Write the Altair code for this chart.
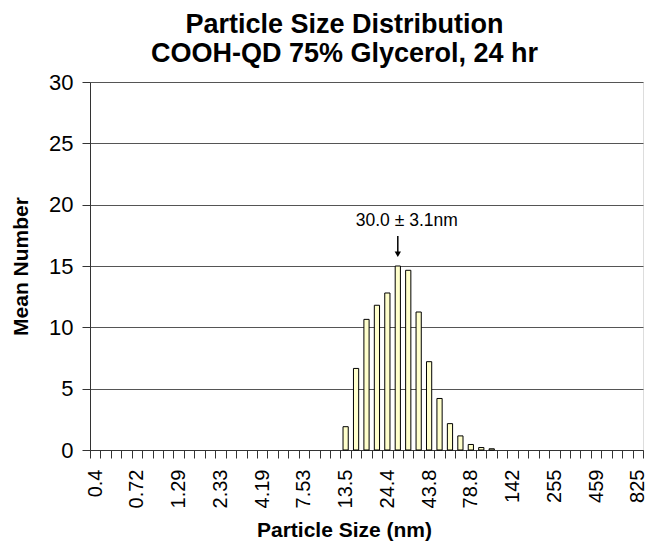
import json
import altair as alt
import pandas as pd

# Bin sizes (nm), Malvern-style size classes shown on the category axis
sizes = ["0.4", "0.463", "0.537", "0.621", "0.72", "0.833", "0.965", "1.12",
         "1.29", "1.5", "1.74", "2.01", "2.33", "2.7", "3.12", "3.62",
         "4.19", "4.85", "5.62", "6.5", "7.53", "8.72", "10.1", "11.7",
         "13.5", "15.7", "18.2", "21", "24.4", "28.2", "32.7", "37.8",
         "43.8", "50.7", "58.8", "68.1", "78.8", "91.3", "106", "122",
         "142", "164", "190", "220", "255", "295", "342", "396",
         "459", "531", "615", "712", "825"]

# Mean number per bin (only bins 13.5 .. 91.3 non-zero)
mean_number = [0] * 24 + [1.9, 6.65, 10.65, 11.8, 12.8, 15.0, 14.65, 11.25,
                          7.2, 4.2, 2.15, 1.15, 0.45, 0.2, 0.1] + [0] * 14

shown_labels = ["0.4", "0.72", "1.29", "2.33", "4.19", "7.53", "13.5", "24.4",
                "43.8", "78.8", "142", "255", "459", "825"]

y_ticks = [0, 5, 10, 15, 20, 25, 30]

annot_text = ["30.0 ± 3.1nm"]
annot_x = ["28.2"]
annot_y = [18.7]
arrow_top = [17.45]
arrow_bottom = [15.95]

FONT = "Liberation Sans"

df = pd.DataFrame({"size": sizes, "value": mean_number})
ann = pd.DataFrame({"size": annot_x, "y": annot_y, "label": annot_text,
                    "y1": arrow_top, "y2": arrow_bottom})

label_expr = "indexof(" + json.dumps(shown_labels) + ", datum.value) >= 0 ? datum.value : ''"

x_scale = alt.Scale(domain=sizes, paddingInner=0, paddingOuter=0)
y_scale = alt.Scale(domain=[0, 30])

bars = alt.Chart(df).transform_filter("datum.value > 0").mark_bar(
    width=alt.RelativeBandSize(0.5), fill="#FFFFCC", stroke="#000000", strokeWidth=1
).encode(
    x=alt.X("size:N", scale=x_scale, sort=sizes,
            axis=alt.Axis(title="Particle Size (nm)", labelExpr=label_expr,
                          labelAngle=270, labelFontSize=20, labelFont=FONT,
                          labelColor="#000000", labelPadding=11, labelOverlap=False,
                          tickBand="extent", tickSize=8, tickColor="#333333",
                          domainColor="#333333", grid=False,
                          titleFontSize=21, titleFont=FONT, titleFontWeight="bold",
                          titleColor="#000000", titleX=254, titleY=80,
                          titleBaseline="middle", titleAlign="center")),
    y=alt.Y("value:Q", scale=y_scale,
            axis=alt.Axis(title="Mean Number", values=y_ticks, labelFontSize=22,
                          labelFont=FONT, labelColor="#000000", labelPadding=9,
                          tickSize=8, tickColor="#333333", domainColor="#333333",
                          grid=True, gridColor="#555555", gridWidth=1,
                          titleFontSize=21, titleFont=FONT, titleFontWeight="bold",
                          titleColor="#000000", titleX=-69, titleY=184,
                          titleBaseline="middle", titleAlign="center")),
)

text = alt.Chart(ann).mark_text(
    font=FONT, fontSize=17.5, color="#000000", align="center", baseline="middle", dx=9
).encode(x=alt.X("size:N", scale=x_scale, sort=sizes),
         y=alt.Y("y:Q", scale=y_scale), text="label:N")

shaft = alt.Chart(ann).mark_rule(color="#000000", strokeWidth=1.5).encode(
    x=alt.X("size:N", scale=x_scale, sort=sizes),
    y=alt.Y("y1:Q", scale=y_scale), y2="y2:Q")

head = alt.Chart(ann).mark_point(
    shape="triangle-down", filled=True, color="#000000", size=40, opacity=1
).encode(x=alt.X("size:N", scale=x_scale, sort=sizes),
         y=alt.Y("y2:Q", scale=y_scale))

chart = alt.layer(bars, shaft, head, text).properties(
    width=553, height=368,
    autosize=alt.AutoSizeParams(type="none"),
    padding={"left": 82, "top": 74, "right": 4, "bottom": 92},
    title=alt.TitleParams(
        text=["Particle Size Distribution", "COOH-QD 75% Glycerol, 24 hr"],
        font=FONT, fontSize=27, fontWeight="bold", color="#000000",
        anchor="middle", frame="group", dx=-22, offset=3, lineHeight=29),
).configure_view(stroke=None).configure(background="#ffffff")

chart.save("out.html", embed_options={"renderer": "svg", "actions": False})
